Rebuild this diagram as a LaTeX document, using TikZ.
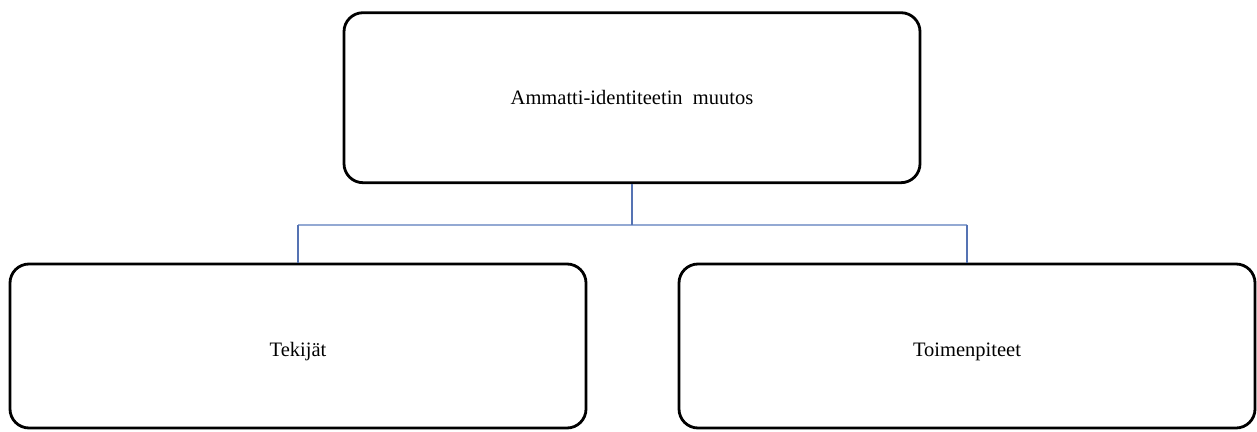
\documentclass[tikz,border=0pt]{standalone}
\usepackage{fontspec}
\setmainfont{Liberation Serif}
\definecolor{linkdark}{HTML}{5573B3}
\definecolor{linklight}{HTML}{93A9D3}
\begin{document}
\begin{tikzpicture}[x=1pt,y=-1pt,
  orgbox/.style={draw=black, line width=2.8pt, rounded corners=19pt, fill=white,
    minimum width=576pt, inner sep=0pt, text depth=0pt,
    font=\fontsize{20.5}{24}\selectfont},
  vlink/.style={draw=linkdark, line width=2pt},
  hlink/.style={draw=linklight, line width=2pt}]
  \useasboundingbox (0,0) rectangle (1257,431);
  % boxes are placed first so the connectors can refer to them
  \node[orgbox, minimum height=170pt, text height=12.6pt] (top) at (632,97.7) {Ammatti-identiteetin\ \ muutos};
  \node[orgbox, minimum height=164pt, text height=21pt] (left) at (298,346) {Tekijät};
  \node[orgbox, minimum height=164pt, text height=21pt] (right) at (967,346) {Toimenpiteet};
  \coordinate (split) at (632,224.5);
  % connectors, drawn behind the box outlines
  \begin{scope}[on background layer/.try]
    \draw[hlink] (left.north |- split) -- (right.north |- split);
    \draw[vlink] (top.south) -- (split);
    \draw[vlink] (left.north |- split) -- (left.north);
    \draw[vlink] (right.north |- split) -- (right.north);
  \end{scope}
\end{tikzpicture}
\end{document}
